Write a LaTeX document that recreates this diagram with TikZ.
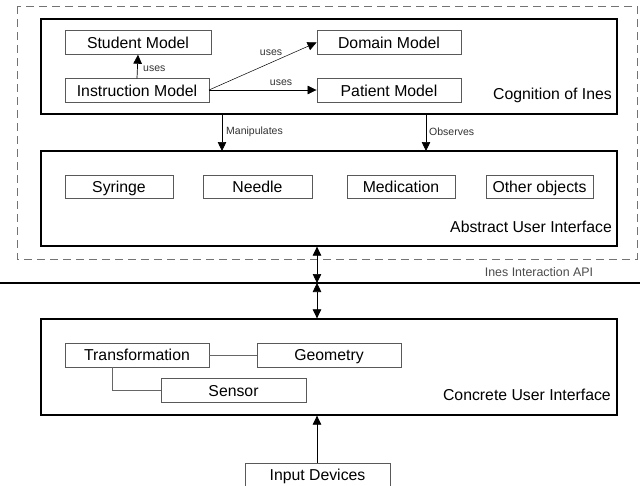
\documentclass[tikz,border=0pt]{standalone}
\usepackage{fontspec}
\setmainfont{Liberation Sans}
\usetikzlibrary{arrows.meta}
\begin{document}
\begin{tikzpicture}[x=1pt,y=-1pt,
  bigbox/.style={draw=black,line width=1.3pt,minimum width=576pt,inner sep=0pt},
  smallbox/.style={draw=black!65,line width=0.9pt,minimum height=23.5pt,inner sep=0pt,
     text height=12.4pt,text depth=1pt,font=\fontsize{15.8}{18}\selectfont},
  bigtext/.style={anchor=east,inner sep=0pt,font=\fontsize{15.8}{18}\selectfont},
  lbl/.style={inner sep=0pt,text=black!80,font=\fontsize{10.5}{12}\selectfont},
  arr/.style={line width=0.7pt,-{Triangle[length=9pt,width=8.5pt]}},
  darr/.style={line width=0.7pt,{Triangle[length=9pt,width=8.5pt]}-{Triangle[length=9pt,width=8.5pt]}},
  link/.style={draw=black!60,line width=0.9pt}]
\useasboundingbox (0,0) rectangle (640,485);
\clip (0,0) rectangle (640,485);
\fill[white] (0,0) rectangle (640,485);
% outer dashed region
\draw[black!55,line width=0.8pt,dash pattern=on 8pt off 5pt] (17,6) rectangle (637,259);
% big boxes
\node[bigbox,minimum height=95pt] (cog) at (329,66.5) {};
\node[bigbox,minimum height=95pt] (aui) at (329,198.5) {};
\node[bigbox,minimum height=96pt] (cui) at (329,367) {};
\node[bigtext] (cogl) at (612,95) {Cognition of Ines};
\node[bigtext] (auil) at (612,227) {Abstract User Interface};
\node[bigtext] (cuil) at (611,395) {Concrete User Interface};
% cognition contents
\node[smallbox,minimum width=146pt] (stu) at (138,42.5) {Student Model};
\node[smallbox,minimum width=144pt] (dom) at (389,42.5) {Domain Model};
\node[smallbox,minimum width=144pt] (ins) at (137,90.5) {Instruction Model};
\node[smallbox,minimum width=144pt] (pat) at (389,90.5) {Patient Model};
\coordinate (insout) at (209,90);
\draw[arr] (ins.north) -- (stu.south);
\node[lbl,anchor=west] (u1) at (143,69) {uses};
\draw[arr,line width=0.5pt] (insout) -- (dom.west);
\node[lbl] (u2) at (271,53) {uses};
\draw[arr] (insout) -- (pat.west |- insout);
\node[lbl] (u3) at (281,83) {uses};
% manipulates / observes
\coordinate (m1) at (222,114);
\coordinate (m2) at (222,151);
\coordinate (o1) at (426,114);
\coordinate (o2) at (426,151);
\draw[arr] (m1) -- (m2);
\draw[arr] (o1) -- (o2);
\node[lbl,anchor=west] (ml) at (226,132) {Manipulates};
\node[lbl,anchor=west] (ol) at (429,132) {Observes};
% abstract contents
\node[smallbox,minimum width=108pt] (syr) at (119,187) {Syringe};
\node[smallbox,minimum width=109pt] (nee) at (257.5,187) {Needle};
\node[smallbox,minimum width=108pt] (med) at (401,187) {Medication};
\node[smallbox,minimum width=107pt] (oth) at (539.5,187) {Other objects};
% API line
\coordinate (lineL) at (0,283);
\coordinate (lineR) at (640,283);
\draw[line width=2.2pt] (lineL) -- (lineR);
\coordinate (api) at (317,283);
\node[inner sep=0pt,text=black!70,font=\fontsize{12.4}{14}\selectfont] (apil) at (539,272) {Ines Interaction API};
\draw[darr] (aui.south -| api) -- (api);
\draw[darr] (api) -- (cui.north -| api);
% concrete contents
\node[smallbox,minimum width=144pt,minimum height=24pt] (tra) at (137,355) {Transformation};
\node[smallbox,minimum width=144pt,minimum height=24pt] (geo) at (329,355) {Geometry};
\node[smallbox,minimum width=145pt] (sen) at (233.5,390.5) {Sensor};
\draw[link] (tra.east) -- (geo.west);
\draw[link] (tra.south west) ++(48,0) |- (sen.west);
% input devices
\node[smallbox,minimum width=145pt,minimum height=24pt] (inp) at (317.5,475) {Input Devices};
\draw[arr] (inp.north -| api) -- (cui.south -| api);
\end{tikzpicture}
\end{document}
